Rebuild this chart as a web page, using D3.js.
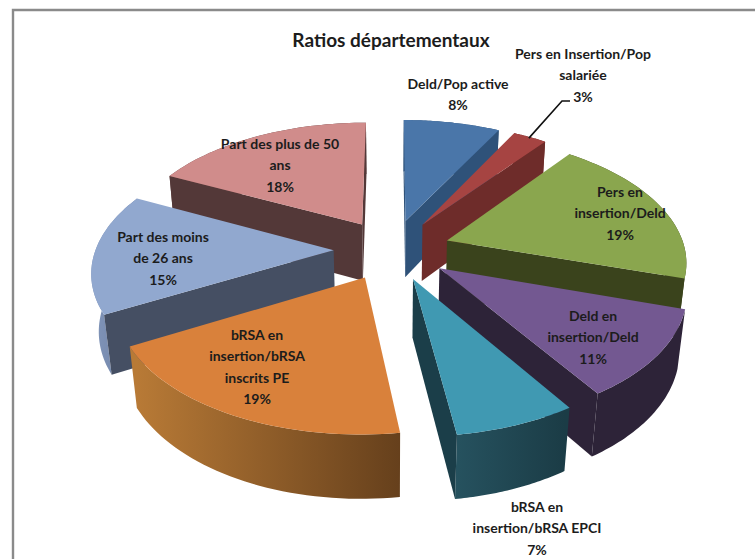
<!DOCTYPE html>
<html>
<head>
<meta charset="utf-8">
<script src="https://cdn.jsdelivr.net/npm/d3@7"></script>
<style>
  html, body { margin: 0; padding: 0; background: #fff; }
  svg { display: block; }
  text { font-family: Lato, "Open Sans", sans-serif; font-weight: 700; fill: #1c1c1c; }
</style>
</head>
<body>
<script>
// values, clockwise from 12 o'clock (labels show them rounded)
const categories = [
    "Deld/Pop active",
    "Pers en Insertion/Pop salariée",
    "Pers en insertion/Deld",
    "Deld en insertion/Deld",
    "bRSA en insertion/bRSA EPCI",
    "bRSA en insertion/bRSA inscrits PE",
    "Part des moins de 26 ans",
    "Part des plus de 50 ans"
];
const values = [7.7, 2.7, 19.45, 11.05, 6.9, 19.2, 15.3, 17.7];
const labelLines = [
    ["Deld/Pop active"],
    ["Pers en Insertion/Pop", "salariée"],
    ["Pers en", "insertion/Deld"],
    ["Deld en", "insertion/Deld"],
    ["bRSA en", "insertion/bRSA EPCI"],
    ["bRSA en", "insertion/bRSA", "inscrits PE"],
    ["Part des moins", "de 26 ans"],
    ["Part des plus de 50", "ans"]
];
const title = "Ratios départementaux";

// styles, same order as categories: top face, radial wall, outer wall left/right
const topColors = ["#4a76a9", "#a64442", "#8aa64e", "#735891", "#4099b2", "#d9813b", "#91a8cf", "#d08c8b"];
const wallColors = ["#2f5279", "#6e2c2a", "#3a431c", "#2d2338", "#1b3e49", "#67401c", "#454f63", "#533838"];
const outerLeft = ["#2f5279", "#6e2c2a", "#3a431c", "#2d2338", "#26525f", "#b87a36", "#7e92b6", "#6e4a4a"];
const outerRight = ["#2f5279", "#6e2c2a", "#3a431c", "#2d2338", "#1b3c46", "#66401c", "#6a7ca0", "#533838"];
// label centre of the first line, in page pixels
const labelAt = [[458, 84], [583, 54], [620, 192], [593, 316], [537, 507], [257, 335], [163, 237], [280, 144]];

const width = 755;
const height = 559;

// the 3d look: unit pie on the ground, seen in perspective
const view = { cx: 392, cy: 249.5, a: 238, b: 124, h: 58.8, p: 0.15, q: 0.025 };
const explode = 0.245;

function project(u, v, depth) {
    const w = 1 + view.p * v + view.q * depth;
    return [view.cx + view.a * u / w, view.cy + (-view.b * v + view.h * depth) / w];
}

function area2(pts) {
    let s = 0;
    pts.forEach((p, i) => {
        const n = pts[(i + 1) % pts.length];
        s += p[0] * n[1] - n[0] * p[1];
    });
    return s;
}

const pie = d3.pie().sort(null).value(d => d);
const line = d3.line();

const slices = pie(values).map((d, i) => {
    const mid = (d.startAngle + d.endAngle) / 2;
    const ou = explode * Math.sin(mid);
    const ov = explode * Math.cos(mid);
    const steps = d3.range(0, 41).map(k => d.startAngle + (d.endAngle - d.startAngle) * k / 40);
    const rim = depth => steps.map(t => project(ou + Math.sin(t), ov + Math.cos(t), depth));
    return {
        i: i,
        mid: mid,
        order: ov,
        apexTop: project(ou, ov, 0),
        apexBottom: project(ou, ov, 1),
        rimTop: rim(0),
        rimBottom: rim(1)
    };
});

const svg = d3.select("body").append("svg")
    .attr("width", width)
    .attr("height", height);

const defs = svg.append("defs");

// chart frame
svg.append("path")
    .attr("d", "M13,559V10H755")
    .attr("fill", "none")
    .attr("stroke", "#8a8a8a")
    .attr("stroke-width", 2.4);

// back slices first
slices.slice().sort((a, b) => b.order - a.order).forEach(s => {
    const g = svg.append("g").attr("class", "slice");
    const xs = s.rimBottom.map(p => p[0]);

    defs.append("linearGradient")
        .attr("id", "outer" + s.i)
        .attr("gradientUnits", "userSpaceOnUse")
        .attr("x1", d3.min(xs)).attr("x2", d3.max(xs))
        .attr("y1", 0).attr("y2", 0)
        .call(lg => {
            lg.append("stop").attr("offset", 0).attr("stop-color", outerLeft[s.i]);
            lg.append("stop").attr("offset", 1).attr("stop-color", outerRight[s.i]);
        });

    g.append("path")
        .attr("d", line(s.rimTop.concat(s.rimBottom.slice().reverse())) + "Z")
        .attr("fill", "url(#outer" + s.i + ")");

    const last = s.rimTop.length - 1;
    const walls = [
        [s.apexTop, s.rimTop[0], s.rimBottom[0], s.apexBottom],
        [s.apexTop, s.apexBottom, s.rimBottom[last], s.rimTop[last]]
    ];
    walls.forEach(w => {
        if (area2(w) < 0) {
            g.append("path")
                .attr("d", line(w) + "Z")
                .attr("fill", wallColors[s.i]);
        }
    });

    g.append("path")
        .attr("d", line([s.apexTop].concat(s.rimTop)) + "Z")
        .attr("fill", topColors[s.i]);
});

// leader line of the small slice
const redRim = slices[1].rimTop[20];
svg.append("path")
    .attr("d", line([[redRim[0] - 1, redRim[1] + 1], [562, 101], [570, 101]]))
    .attr("fill", "none")
    .attr("stroke", "#111")
    .attr("stroke-width", 1.6);

svg.append("text")
    .attr("x", 391)
    .attr("y", 47)
    .attr("text-anchor", "middle")
    .style("font-size", "19px")
    .text(title);

const lineGap = 21.3;
labelLines.forEach((lines, i) => {
    const t = svg.append("text")
        .attr("text-anchor", "middle")
        .style("font-size", "14px");
    lines.concat([Math.round(values[i]) + "%"]).forEach((txt, k) => {
        t.append("tspan")
            .attr("x", labelAt[i][0])
            .attr("y", labelAt[i][1] + 5 + k * lineGap)
            .text(txt);
    });
});
</script>
</body>
</html>
